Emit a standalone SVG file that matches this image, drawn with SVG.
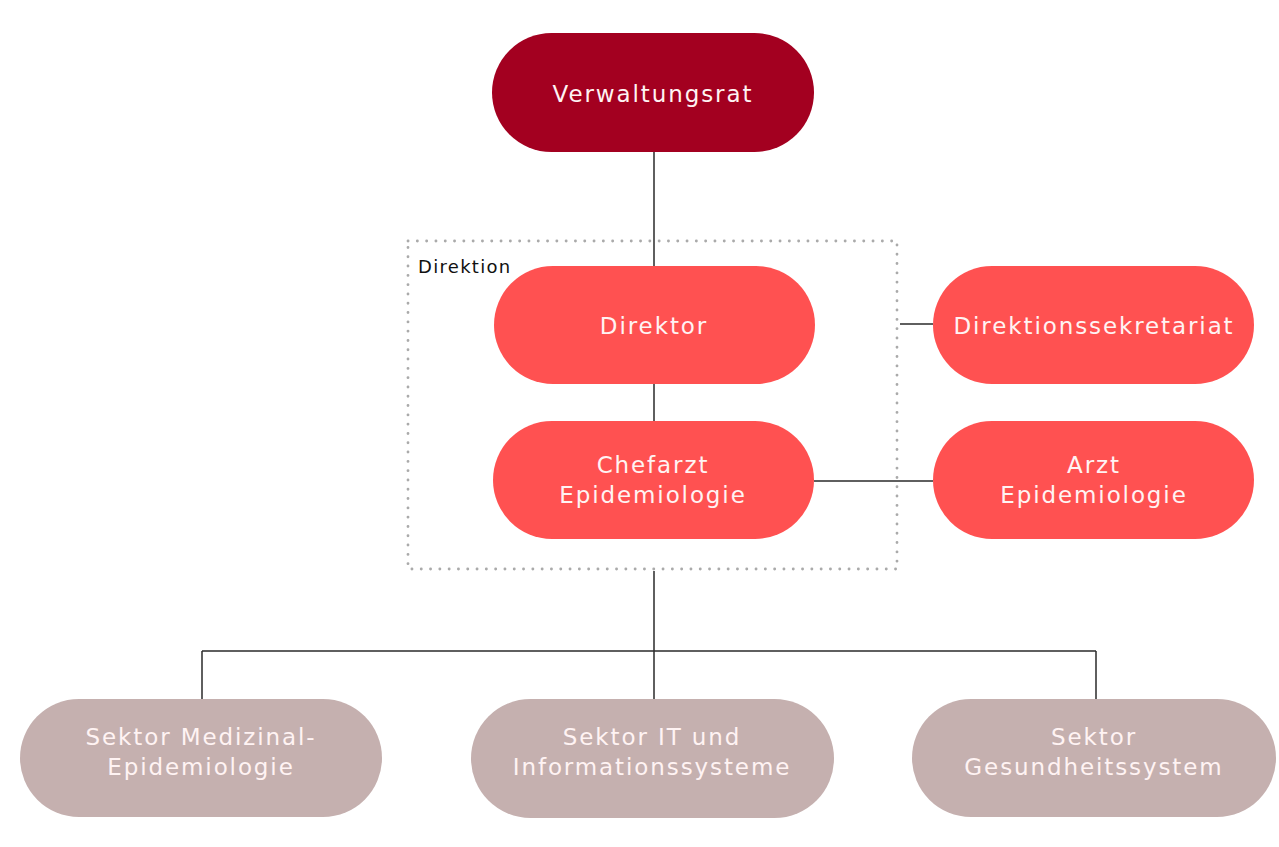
<svg xmlns="http://www.w3.org/2000/svg" width="1279" height="847" viewBox="0 0 1279 847">
<style>
.n text{font-family:"DejaVu Sans",Verdana,sans-serif;font-size:23px;fill:#fff3f3;text-anchor:middle;letter-spacing:1.9px}
.dark rect{fill:#a30020}
.red rect{fill:#ff5151}
.tan rect{fill:#c5b0af}
.c line{stroke:#2a2a2a;stroke-width:1.5}
</style>
<rect width="1279" height="847" fill="#fff"/>
<g id="direktion-group">
<rect x="408" y="241" width="489" height="328" fill="none" stroke="#aaa" stroke-width="2.8" stroke-dasharray="0.1 9.2" stroke-linecap="round"/>
<text x="418" y="273" font-family="DejaVu Sans,Verdana,sans-serif" font-size="18" fill="#111" letter-spacing="1.3">Direktion</text>
</g>
<g class="c" id="connectors">
<line x1="654" y1="152" x2="654" y2="266"/>
<line x1="654" y1="384" x2="654" y2="421"/>
<line x1="654" y1="571" x2="654" y2="699"/>
<line x1="202" y1="651" x2="1096" y2="651"/>
<line x1="202" y1="651" x2="202" y2="699"/>
<line x1="1096" y1="651" x2="1096" y2="699"/>
<line x1="900" y1="324" x2="933" y2="324"/>
<line x1="814" y1="481" x2="933" y2="481"/>
</g>
<g class="n dark" id="verwaltungsrat"><rect x="492" y="33" width="322" height="119" rx="59.5"/><text x="653" y="102">Verwaltungsrat</text></g>
<g class="n red" id="direktor"><rect x="494" y="266" width="321" height="118" rx="59"/><text x="654" y="334">Direktor</text></g>
<g class="n red" id="chefarzt"><rect x="493" y="421" width="321" height="118" rx="59"/><text x="653" y="473">Chefarzt</text><text x="653" y="503">Epidemiologie</text></g>
<g class="n red" id="sekretariat"><rect x="933" y="266" width="321" height="118" rx="59"/><text x="1094" y="334">Direktionssekretariat</text></g>
<g class="n red" id="arzt"><rect x="933" y="421" width="321" height="118" rx="59"/><text x="1094" y="473">Arzt</text><text x="1094" y="503">Epidemiologie</text></g>
<g class="n tan" id="sektor-med"><rect x="20" y="699" width="362" height="118" rx="59"/><text x="201" y="745">Sektor Medizinal-</text><text x="201" y="775">Epidemiologie</text></g>
<g class="n tan" id="sektor-it"><rect x="471" y="699" width="363" height="119" rx="59.5"/><text x="652" y="745">Sektor IT und</text><text x="652" y="775">Informationssysteme</text></g>
<g class="n tan" id="sektor-ges"><rect x="912" y="699" width="364" height="118" rx="59"/><text x="1094" y="745">Sektor</text><text x="1094" y="775">Gesundheitssystem</text></g>
</svg>
